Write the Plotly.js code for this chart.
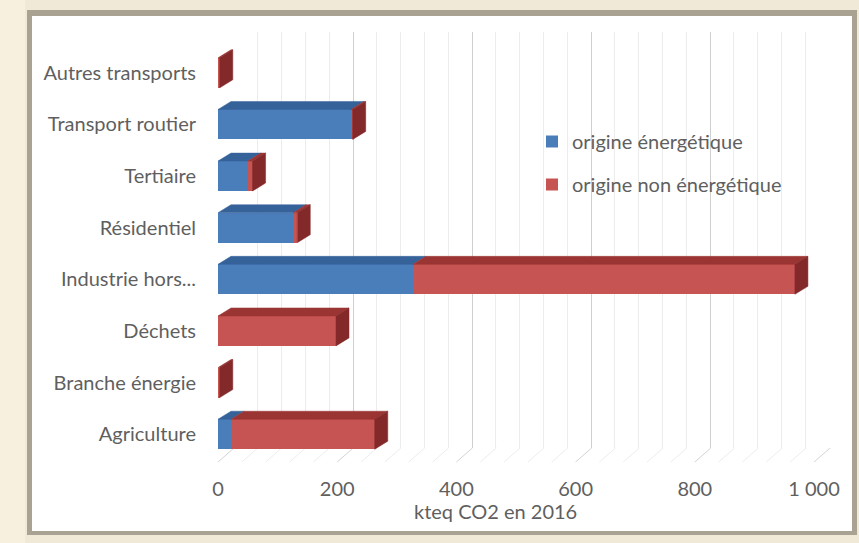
<!DOCTYPE html>
<html>
<head>
<meta charset="utf-8">
<script src="https://cdn.plot.ly/plotly-3.0.1.min.js"></script>
<style>html,body{margin:0;padding:0;background:#f3ebd9;}#chart{width:859px;height:543px;}</style>
</head>
<body>
<div id="chart"></div>
<script>
// ---- data ----
const categories = ['Agriculture', 'Branche énergie', 'Déchets', 'Industrie hors...', 'Résidentiel', 'Tertiaire', 'Transport routier', 'Autres transports'];
const energetique = [22, 0, 0, 327, 126, 50, 223, 0];
const nonEnergetique = [241, 3, 198, 641, 7, 8, 3, 3];
const seriesNames = ['origine énergétique', 'origine non énergétique'];
const xTickVals = [0, 200, 400, 600, 800, 1000];
const xTickText = ['0', '200', '400', '600', '800', '1 000'];
const xTitle = 'kteq CO2 en 2016';

// ---- geometry / style ----
const W = 859, H = 543;
const M = {l: 218, r: 30, t: 28, b: 83};
const PW = W - M.l - M.r, PH = H - M.t - M.b;
const X_MAX = 1000;
const DEPTH_X = 13, DEPTH_Y = 8;       // 3D depth in px
const FRONT_W = 596;                   // width of the front axis in px
const BAR_W = 0.58;
const yTopFront = 47;                  // px of top of category range
const backTop = 32, backBottom = 448;  // px of back wall
const font = 'Lato, "Open Sans", sans-serif';
const txtCol = '#5f5f5f';
const FS = 20;
const C = {
  blue: '#4a7ebb', blueTop: '#36629a', blueSide: '#2c5488',
  red: '#c65452', redTop: '#9a3533', redSide: '#84292a'
};

const px2x = p => (p - M.l) / PW;
const px2y = p => (M.t + PH - p) / PH;
const pxPerUnitX = FRONT_W / X_MAX;
const pxPerUnitY = (M.t + PH - yTopFront) / categories.length;
const dxU = DEPTH_X / pxPerUnitX;
const dyU = DEPTH_Y / pxPerUnitY;
const hw = BAR_W / 2;

// build 3D faces from data
function facesTrace(color) { return {type: 'scatter', mode: 'lines', x: [], y: [], xaxis: 'x2', yaxis: 'y2', fill: 'toself', fillcolor: color, line: {color: color, width: 0.5}, hoverinfo: 'skip', showlegend: false}; }
const fBlueTop = facesTrace(C.blueTop), fRedTop = facesTrace(C.redTop), fBlueSide = facesTrace(C.blueSide), fRedSide = facesTrace(C.redSide);
function addPoly(tr, pts) { pts.forEach(p => { tr.x.push(p[0]); tr.y.push(p[1]); }); tr.x.push(pts[0][0]); tr.y.push(pts[0][1]); tr.x.push(null); tr.y.push(null); }
categories.forEach((c, i) => {
  const b = energetique[i], r = nonEnergetique[i], T = b + r;
  const yt = i + hw, yb = i - hw;
  if (b > 0) addPoly(fBlueTop, [[0, yt], [b, yt], [b + dxU, yt + dyU], [dxU, yt + dyU]]);
  if (r > 0) addPoly(fRedTop, [[b, yt], [T, yt], [T + dxU, yt + dyU], [b + dxU, yt + dyU]]);
  addPoly(r > 0 ? fRedSide : fBlueSide, [[T, yb], [T, yt], [T + dxU, yt + dyU], [T + dxU, yb + dyU]]);
});

const idx = categories.map((c, i) => i);
const traces = [
  {type: 'scatter', x: [null], y: [null], xaxis: 'x', yaxis: 'y', hoverinfo: 'skip', showlegend: false},
  {type: 'bar', orientation: 'h', name: seriesNames[0], x: energetique, y: idx, xaxis: 'x2', yaxis: 'y2', width: BAR_W, marker: {color: C.blue, line: {width: 0}}, legendgroup: 'a'},
  {type: 'bar', orientation: 'h', name: seriesNames[1], x: nonEnergetique, y: idx, xaxis: 'x2', yaxis: 'y2', width: BAR_W, marker: {color: C.red, line: {width: 0}}, legendgroup: 'b'},
  fBlueTop, fRedTop, fBlueSide, fRedSide
];

// frame + floor lines (back wall -> front axis) for every grid step
const shapes = [
  {type: 'rect', xref: 'paper', yref: 'paper', x0: px2x(0), x1: px2x(25), y0: px2y(0), y1: px2y(543), fillcolor: '#f8f0de', line: {width: 0}, layer: 'below'},
  {type: 'rect', xref: 'paper', yref: 'paper', x0: px2x(27), x1: px2x(857), y0: px2y(10), y1: px2y(535), fillcolor: '#a9a293', line: {width: 0}, layer: 'below'},
  {type: 'rect', xref: 'paper', yref: 'paper', x0: px2x(32), x1: px2x(852), y0: px2y(16), y1: px2y(531), fillcolor: '#ffffff', line: {width: 0}, layer: 'below'}
];
for (let v = 0; v <= X_MAX; v += 40) {
  const major = v % 200 === 0;
  const fx = M.l + v * pxPerUnitX;
  shapes.push({type: 'line', xref: 'paper', yref: 'paper', x0: px2x(fx + DEPTH_X + 3), y0: px2y(backBottom), x1: px2x(fx), y1: px2y(462), line: {color: major ? '#d4d4d4' : '#ededed', width: 1}, layer: 'below'});
}

const layout = {
  width: W, height: H,
  margin: M,
  paper_bgcolor: '#f1e9d7',
  plot_bgcolor: 'rgba(0,0,0,0)',
  barmode: 'stack',
  showlegend: true,
  font: {family: font, color: txtCol, size: FS},
  xaxis: {domain: [(DEPTH_X + 3) / PW, (DEPTH_X + 3 + FRONT_W) / PW], range: [0, X_MAX], anchor: 'y', dtick: 200, tick0: 0,
          showgrid: true, gridcolor: '#cfcfcf', gridwidth: 1, zeroline: false, showticklabels: false, ticks: '', showline: false,
          minor: {dtick: 40, tick0: 0, showgrid: true, gridcolor: '#ececec', gridwidth: 1}, fixedrange: true},
  yaxis: {domain: [px2y(backBottom), px2y(backTop)], range: [0, 1], anchor: 'x', showgrid: false, zeroline: false, showticklabels: false, ticks: '', fixedrange: true},
  xaxis2: {domain: [0, FRONT_W / PW], range: [0, X_MAX], anchor: 'y2', tickvals: xTickVals, ticktext: xTickText, showgrid: false, zeroline: false, showline: false, ticks: '',
           ticklabelstandoff: 15, tickfont: {size: FS, color: txtCol}, fixedrange: true},
  yaxis2: {domain: [0, px2y(yTopFront)], range: [-0.5, categories.length - 0.5], anchor: 'x2', tickvals: idx, ticktext: categories, showgrid: false, zeroline: false, showline: false, ticks: '',
           ticklabelstandoff: 21, tickfont: {size: FS, color: txtCol}, fixedrange: true},
  legend: {x: px2x(532), y: px2y(122), xanchor: 'left', yanchor: 'top', traceorder: 'grouped', tracegroupgap: 14, bgcolor: 'rgba(0,0,0,0)', font: {size: FS, color: txtCol}, itemwidth: 30},
  annotations: [{text: xTitle, xref: 'paper', yref: 'paper', x: px2x(495), y: px2y(511), xanchor: 'center', yanchor: 'middle', showarrow: false, font: {size: FS, color: txtCol}}],
  shapes: shapes
};

Plotly.newPlot('chart', traces, layout, {displayModeBar: false, staticPlot: true});
</script>
</body>
</html>
